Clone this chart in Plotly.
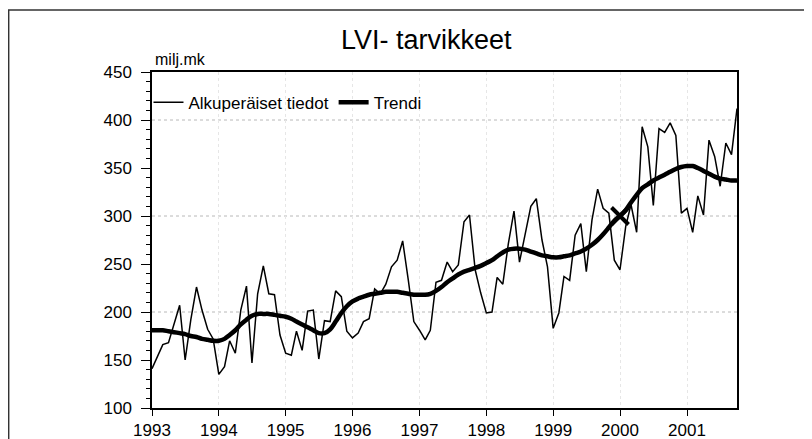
import plotly.graph_objects as go
import pandas as pd

#
# Data (monthly, Jan 1993 - Oct 2001)
#
months = pd.date_range('1993-01-01', periods=106, freq='MS')

original = [141, 155, 166, 168, 188, 207, 150, 192, 226, 202, 182, 172,
            135, 143, 170, 157, 202, 227, 147, 219, 248, 219, 218, 176,
            157, 155, 180, 160, 201, 202, 151, 191, 190, 222, 216, 180,
            173, 178, 190, 193, 224, 219, 229, 247, 254, 274, 233, 190,
            181, 171, 181, 231, 233, 252, 242, 249, 294, 301, 244, 220,
            199, 200, 236, 229, 271, 305, 252, 282, 310, 318, 275, 247,
            183, 199, 237, 233, 280, 292, 242, 296, 328, 308, 303, 254,
            244, 289, 312, 283, 393, 372, 311, 391, 387, 397, 384, 303,
            308, 283, 321, 301, 379, 362, 331, 376, 364, 412]

trend = [181, 181, 181, 180, 179, 178, 177, 175, 174, 172, 171, 170,
         170, 172, 176, 181, 187, 192, 196, 198, 198, 198, 197, 196,
         195, 193, 190, 187, 184, 181, 178, 178, 182, 190, 199, 206,
         211, 214, 216, 218, 219, 220, 221, 221, 221, 220, 219, 218,
         218, 218, 219, 222, 226, 231, 235, 239, 242, 244, 246, 248,
         251, 254, 258, 262, 265, 266, 266, 265, 263, 261, 259, 258,
         257, 257, 258, 259, 261, 263, 266, 270, 275, 281, 288, 295,
         300, 306, 314, 322, 329, 333, 337, 340, 343, 346, 349, 351,
         352, 352, 350, 347, 344, 341, 339, 338, 337, 337]

cross_x = ['2000-01-01']
cross_y = [300]

year_ticks = pd.date_range('1993-01-01', '2001-01-01', freq='YS')
year_labels = [str(d.year) for d in year_ticks]

#
# Figure
#
font = 'Liberation Sans, Arial, sans-serif'

fig = go.Figure()
fig.add_trace(go.Scatter(x=months, y=original, mode='lines', name='Alkuperäiset tiedot',
                         line=dict(color='black', width=1.5)))
fig.add_trace(go.Scatter(x=months, y=trend, mode='lines', name='Trendi',
                         line=dict(color='black', width=4.5, shape='spline')))
fig.add_trace(go.Scatter(x=cross_x, y=cross_y, mode='markers', showlegend=False,
                         marker=dict(symbol='x-thin', size=17, color='black',
                                     line=dict(color='black', width=4))))

# dotted horizontal grid every 100
for level in [200, 300, 400]:
    fig.add_hline(y=level, line=dict(color='#b8b8b8', width=1, dash='dot'), layer='below')

# outer frame round the whole picture
fig.add_shape(type='rect', xref='paper', yref='paper',
              x0=-0.245, x1=1.14, y0=-0.12, y1=1.1845,
              line=dict(color='#333333', width=1.5))

fig.add_annotation(text='milj.mk', xref='paper', yref='paper', x=0.002, y=1.036,
                   xanchor='left', yanchor='middle', showarrow=False,
                   font=dict(family=font, size=16, color='black'))

# the page body has an 8px margin, so the figure is 8px smaller than the window
fig.update_layout(
    width=804, height=431,
    margin=dict(l=144, r=75, t=64, b=31, autoexpand=False),
    paper_bgcolor='white', plot_bgcolor='white',
    font=dict(family=font, size=17, color='black'),
    title=dict(text='LVI- tarvikkeet', xref='paper', x=0.323, xanchor='left',
               yref='container', y=0.926, yanchor='middle',
               font=dict(family=font, size=27, color='black')),
    legend=dict(orientation='h', x=-0.006, y=0.962, xanchor='left', yanchor='top',
                bgcolor='rgba(0,0,0,0)', font=dict(size=17), itemwidth=30,
                tracegroupgap=0),
    showlegend=True,
)
fig.update_xaxes(type='date', range=['1993-01-01', '2001-10-01'],
                 tickvals=year_ticks, ticktext=year_labels,
                 ticks='outside', ticklen=6, tickcolor='black',
                 showline=True, linecolor='black', linewidth=1.5, mirror=True,
                 showgrid=True, gridcolor='#e6e6e6', griddash='dot', gridwidth=1,
                 zeroline=False, automargin=False, ticklabelstandoff=0)
fig.update_yaxes(range=[100, 450], dtick=50, tick0=100,
                 ticks='outside', ticklen=9, tickcolor='black',
                 minor=dict(dtick=10, ticks='outside', ticklen=4, tickcolor='black',
                            showgrid=False),
                 showline=True, linecolor='black', linewidth=1.5, mirror=True,
                 showgrid=False, zeroline=False, automargin=False, ticklabelstandoff=6)

fig.write_html("out.html")
